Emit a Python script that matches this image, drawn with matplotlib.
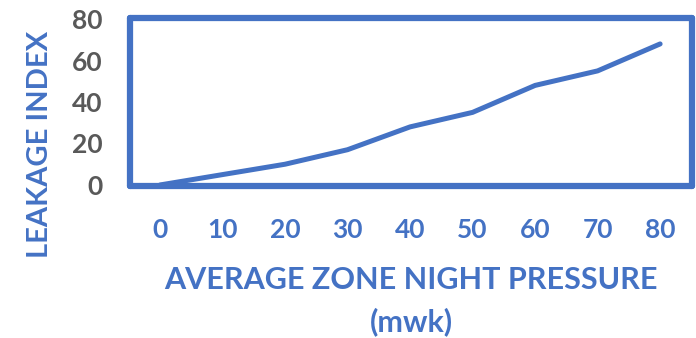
import matplotlib
matplotlib.use("Agg")
import matplotlib.pyplot as plt

pressure = [0, 10, 20, 30, 40, 50, 60, 70, 80]
leakage = [0, 5, 10, 17, 28, 35, 48, 55, 68]
x_labels = ["0", "10", "20", "30", "40", "50", "60", "70", "80"]
y_ticks = [0, 20, 40, 60, 80]

blue = "#4472C4"
plt.rcParams['font.family'] = ['Lato', 'DejaVu Sans']

fig = plt.figure(figsize=(6.96, 3.38), dpi=100)
ax = fig.add_axes([130/696, 1-186/338, 562/696, 168/338])

ax.axhline(0, color="#D9D9D9", lw=1.5, zorder=1)
ax.plot(pressure, leakage, color=blue, lw=3.6, solid_capstyle='round', zorder=3)

ax.set_xlim(-4.8, 85.1)
ax.set_ylim(-0.5, 80.5)
ax.set_xticks(pressure)
ax.set_xticklabels(x_labels, fontsize=19, fontweight='bold', color=blue)
ax.set_yticks(y_ticks)
ax.set_yticklabels([str(v) for v in y_ticks], fontsize=19, fontweight='bold', color="#595959")
ax.tick_params(axis='x', length=0, pad=23)
ax.tick_params(axis='y', length=0, pad=20)
for s in ax.spines.values():
    s.set_color(blue)
    s.set_linewidth(4.5)
    s.set_capstyle('round')

fig.text(40/696, 1-144/338, "LEAKAGE INDEX", rotation=90, ha='center', va='center',
         fontsize=21, fontweight='bold', color=blue)
fig.text(411/696, 1-280/338, "AVERAGE ZONE NIGHT PRESSURE", ha='center', va='center',
         fontsize=22, fontweight='bold', color=blue)
fig.text(411/696, 1-322/338, "(mwk)", ha='center', va='center',
         fontsize=22, fontweight='bold', color=blue)

fig.savefig("out.png", dpi=100)
